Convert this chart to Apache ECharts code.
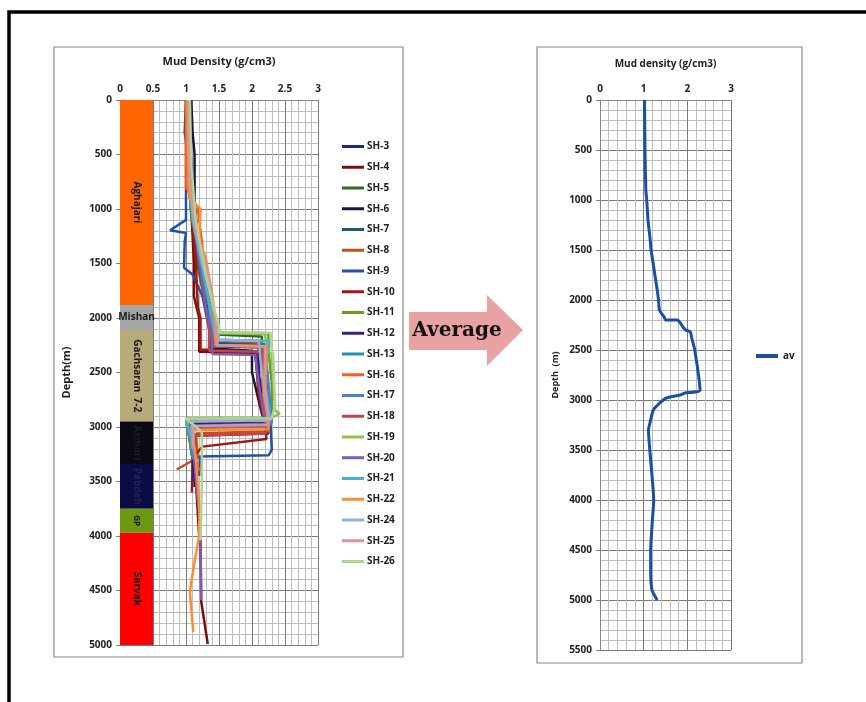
<!DOCTYPE html>
<html lang="en">
<head>
    <meta charset="UTF-8">
    <title>Mud density</title>
    <style>
        body { margin: 0; background: #fff; }
        #main { width: 866px; height: 702px; }
    </style>
</head>
<body>
    <div id="main"></div>
    <script src="https://cdn.jsdelivr.net/npm/echarts@6.0.0/dist/echarts.min.js"></script>
    <script>
        // formations: [top depth, bottom depth]
        const formTops = [0, 1880, 2110, 2950, 3340, 3750, 3970];
        const formBottoms = [1880, 2110, 2950, 3340, 3750, 3970, 5000];
        const formNames = ['Aghajari', 'Mishan', 'Gachsaran  7-2', 'Asmari', 'Pabdeh', 'GP', 'Sarvak'];
        const formColors = ['#ff6600', '#a6a6a6', '#b8ab7a', '#0a0a14', '#0c0c44', '#6b9a12', '#ff0000'];
        const formText = ['#1a1a1a', '#1a1a1a', '#1a1a1a', '#1c1c26', '#22225c', '#1a1a1a', '#1a1a1a'];

        // each well: [density, depth]
        const sh3 = [[1.05,0],[1.07,400],[1.08,900],[1.15,1300],[1.28,1800],[1.35,2050],[1.38,2250],[2.1,2260],[2.1,2500],[2.2,2900],[2.25,2980],[1.1,3000],[1.12,3300],[1.15,3500]];
        const sh4 = [[1.02,0],[1.05,500],[1.08,1000],[1.12,1500],[1.12,1800],[1.2,2000],[1.2,2310],[2.05,2320],[2.1,2600],[2.2,2950],[2.25,3060],[1.15,3080],[1.12,3300],[1.15,3500],[1.2,4000],[1.22,4050],[1.23,4600],[1.33,4990]];
        const sh5 = [[1.03,0],[1.05,600],[1.07,1000],[1.17,1500],[1.3,1900],[1.38,2150],[2.15,2170],[2.15,2500],[2.2,2900],[2.22,2940],[1.05,2950],[1.1,3200],[1.15,3400]];
        const sh6 = [[1.08,0],[1.1,300],[1.13,500],[1.13,900],[1.18,1300],[1.3,1700],[1.35,2000],[1.38,2280],[2.0,2300],[2.0,2500],[2.15,2880],[2.2,2960],[1.1,2980],[1.12,3200],[1.13,3550]];
        const sh7 = [[1.0,0],[0.98,300],[1.05,600],[1.15,1100],[1.25,1600],[1.4,2100],[1.42,2230],[2.2,2240],[2.15,2600],[2.25,2900],[2.3,2930],[1.02,2940],[1.05,3100],[1.1,3300]];
        const sh8 = [[1.02,0],[1.05,500],[1.1,1000],[1.25,1500],[1.35,1900],[1.4,2200],[2.15,2230],[2.2,2600],[2.25,2950],[2.25,3040],[1.15,3060],[1.18,3280],[0.86,3390]];
        const sh9 = [[1.0,0],[1.0,500],[1.0,1100],[0.76,1195],[1.0,1220],[0.98,1300],[0.97,1540],[1.1,1600],[1.25,1800],[1.35,2100],[1.38,2260],[2.1,2270],[2.2,2500],[2.28,2950],[2.3,3210],[2.25,3260],[1.21,3270],[1.2,3450]];
        const sh10 = [[1.03,0],[1.06,600],[1.1,1100],[1.15,1500],[1.18,1900],[1.22,2000],[1.22,2290],[2.05,2310],[2.1,2700],[2.2,3000],[2.22,3110],[1.25,3180],[1.1,3280],[1.09,3600]];
        const sh11 = [[1.05,0],[1.04,800],[1.1,1100],[1.25,1600],[1.4,2000],[1.52,2130],[2.25,2140],[2.25,2300],[2.3,2600],[2.3,2940],[1.0,2950],[1.05,3100],[1.1,3300]];
        const sh12 = [[1.05,0],[1.08,600],[1.12,1100],[1.2,1500],[1.32,1900],[1.4,2300],[2.1,2310],[2.1,2600],[2.2,2940],[2.2,2960],[1.05,2970],[1.1,3300],[1.12,3500]];
        const sh13 = [[1.02,0],[1.05,700],[1.12,1100],[1.25,1500],[1.38,1900],[1.45,2200],[2.15,2210],[2.2,2500],[2.25,2900],[2.28,2920],[1.0,2925],[1.1,3200],[1.15,3400]];
        const sh16 = [[1.0,0],[1.0,800],[1.18,1000],[1.24,1300],[1.3,1600],[1.38,1900],[1.45,2250],[2.2,2270],[2.15,2500],[2.2,2900],[2.25,3000],[1.05,3010],[1.1,3200],[1.2,3400]];
        const sh17 = [[1.03,0],[1.06,600],[1.12,1100],[1.22,1500],[1.35,1900],[1.4,2250],[2.2,2260],[2.25,2600],[2.3,2960],[2.25,2990],[1.05,3000],[1.1,3300]];
        const sh18 = [[1.04,0],[1.05,500],[1.1,1100],[1.22,1500],[1.3,1900],[1.35,2100],[1.35,2300],[2.15,2310],[2.2,2800],[2.25,3020],[2.2,3060],[1.1,3080],[1.15,3300]];
        const sh19 = [[1.04,0],[1.06,800],[1.15,1200],[1.3,1600],[1.42,1950],[1.5,2140],[2.2,2150],[2.22,2300],[2.3,2330],[2.35,2850],[2.42,2875],[2.3,2915],[1.0,2920],[1.05,3000],[1.1,3200]];
        const sh20 = [[1.05,0],[1.06,600],[1.1,1000],[1.2,1500],[1.3,1900],[1.38,2100],[1.4,2330],[2.05,2340],[2.1,2600],[2.18,2900],[2.2,2970],[1.05,2990],[1.12,3200],[1.15,3500],[1.2,3800],[1.22,4050],[1.23,4590]];
        const sh21 = [[1.02,0],[1.04,700],[1.1,1100],[1.2,1400],[1.33,1800],[1.42,2100],[1.45,2200],[2.25,2210],[2.2,2600],[2.28,2930],[2.2,2940],[1.0,2945],[1.08,3100],[1.15,3300]];
        const sh22 = [[1.02,0],[1.03,500],[1.05,900],[1.22,1000],[1.2,1300],[1.3,1450],[1.4,1800],[1.45,2100],[1.45,2250],[2.22,2260],[2.2,2600],[2.25,2950],[2.25,3020],[1.1,3030],[1.15,3300],[1.2,3700],[1.2,4000],[1.14,4200],[1.06,4500],[1.07,4600],[1.11,4880]];
        const sh24 = [[1.04,0],[1.05,700],[1.12,1100],[1.25,1500],[1.38,1800],[1.45,2000],[1.5,2200],[2.1,2210],[2.15,2500],[2.25,2900],[2.28,2940],[1.1,2950],[1.12,3200]];
        const sh25 = [[1.03,0],[1.05,700],[1.15,1200],[1.3,1500],[1.4,1800],[1.45,2050],[1.48,2250],[2.2,2260],[2.18,2700],[2.25,2950],[2.22,2980],[1.08,2990],[1.12,3200]];
        const sh26 = [[1.06,0],[1.08,600],[1.15,1100],[1.3,1600],[1.42,1900],[1.5,2080],[1.5,2130],[2.28,2135],[2.3,2300],[2.32,2330],[2.35,2800],[2.3,2920],[1.0,2925],[1.15,3000],[1.24,3050],[1.24,3500],[1.22,4040]];

        const wellNames = ['SH-3','SH-4','SH-5','SH-6','SH-7','SH-8','SH-9','SH-10','SH-11','SH-12','SH-13','SH-16','SH-17','SH-18','SH-19','SH-20','SH-21','SH-22','SH-24','SH-25','SH-26'];
        const wellData = [sh3, sh4, sh5, sh6, sh7, sh8, sh9, sh10, sh11, sh12, sh13, sh16, sh17, sh18, sh19, sh20, sh21, sh22, sh24, sh25, sh26];
        const wellColors = ['#1f2a7a','#7b0c0c','#2f6b1c','#16163e','#1d5b70','#c44f1c','#1f50aa','#a31515','#6b9b22','#3c1d7c','#2b8cab',
                            '#ff5b12','#4d7fd2','#c24545','#8dc246','#7c5cab','#43b3d3','#ff8c35','#94b0da','#d99595','#b3d395'];

        // average curve: [density, depth]
        const avgData = [[1.02,0],[1.03,500],[1.05,900],[1.07,1000],[1.1,1200],[1.15,1400],[1.17,1500],[1.24,1700],[1.31,1900],[1.34,2000],[1.36,2100],
                         [1.4,2130],[1.47,2170],[1.5,2200],[1.77,2200],[1.84,2230],[1.9,2270],[1.96,2300],[2.07,2320],[2.1,2380],[2.17,2500],[2.29,2900],
                         [1.95,2930],[1.83,2950],[1.52,2980],[1.45,3000],[1.32,3050],[1.22,3100],[1.16,3200],[1.11,3300],[1.14,3500],[1.2,3800],
                         [1.23,4000],[1.2,4200],[1.16,4500],[1.16,4700],[1.19,4900],[1.31,5000]];

        const font = '"Open Sans", "Liberation Sans", sans-serif';
        const lbl = { fontSize: 10, fontWeight: 'bold', color: '#222', fontFamily: font };
        const major = { lineStyle: { color: '#7a7a7a', width: 1 } };
        const minor = { show: true, lineStyle: { color: '#bdbdbd', width: 1 } };
        const plain = v => String(v);

        const chart = echarts.init(document.getElementById('main'));

        const series = [{
            type: 'custom',
            xAxisIndex: 0, yAxisIndex: 0,
            data: formTops.map((t, i) => [0, t, 0.5, formBottoms[i]]),
            encode: { x: [0, 2], y: [1, 3] },
            silent: true,
            renderItem: function (params, api) {
                const i = params.dataIndex;
                const p0 = api.coord([api.value(0), api.value(1)]);
                const p1 = api.coord([api.value(2), api.value(3)]);
                const flat = formNames[i] === 'Mishan';
                return {
                    type: 'group',
                    children: [{
                        type: 'rect',
                        shape: { x: p0[0], y: p0[1], width: p1[0] - p0[0], height: p1[1] - p0[1] },
                        style: { fill: formColors[i] }
                    }, {
                        type: 'text',
                        x: (p0[0] + p1[0]) / 2,
                        y: (p0[1] + p1[1]) / 2,
                        rotation: flat ? 0 : -Math.PI / 2,
                        style: {
                            text: formNames[i], align: 'center', verticalAlign: 'middle',
                            fill: formText[i],
                            font: 'bold ' + (i === 5 ? 8 : 10) + 'px ' + font
                        }
                    }]
                };
            }
        }];
        wellNames.forEach((n, i) => {
            series.push({
                name: n, type: 'line', xAxisIndex: 0, yAxisIndex: 0,
                data: wellData[i], symbol: 'none', color: wellColors[i],
                lineStyle: { width: 2.5 }
            });
        });
        series.push({
            name: 'av', type: 'line', xAxisIndex: 1, yAxisIndex: 1,
            data: avgData, symbol: 'none', color: '#1a4fa8', smooth: 0.2,
            lineStyle: { width: 3 }
        });

        const option = {
            animation: false,
            backgroundColor: '#fff',
            grid: [
                { left: 120, top: 100, width: 198, height: 545 },
                { left: 600, top: 100, width: 131, height: 550 }
            ],
            xAxis: [{
                type: 'value', gridIndex: 0, position: 'top', min: 0, max: 3, interval: 0.5,
                name: 'Mud Density (g/cm3)', nameLocation: 'middle', nameGap: 33,
                nameTextStyle: { fontSize: 11, fontWeight: 'bold', color: '#222', fontFamily: font },
                axisLine: { show: true, lineStyle: { color: '#888' } },
                axisTick: { show: false },
                axisLabel: Object.assign({ margin: 6, formatter: plain }, lbl),
                splitLine: major,
                minorTick: { show: false, splitNumber: 5 },
                minorSplitLine: minor
            }, {
                type: 'value', gridIndex: 1, position: 'top', min: 0, max: 3, interval: 1,
                name: 'Mud density (g/cm3)', nameLocation: 'middle', nameGap: 31,
                nameTextStyle: { fontSize: 10, fontWeight: 'bold', color: '#222', fontFamily: font },
                axisLine: { show: true, lineStyle: { color: '#888' } },
                axisTick: { show: false },
                axisLabel: Object.assign({ margin: 6, formatter: plain }, lbl),
                splitLine: major,
                minorTick: { show: false, splitNumber: 5 },
                minorSplitLine: minor
            }],
            yAxis: [{
                type: 'value', gridIndex: 0, inverse: true, min: 0, max: 5000, interval: 500,
                name: 'Depth(m)', nameLocation: 'middle', nameGap: 48, nameRotate: 90,
                nameTextStyle: { fontSize: 11, fontWeight: 'bold', color: '#222', fontFamily: font },
                axisLine: { show: true, lineStyle: { color: '#888' } },
                axisTick: { show: true, length: 4, lineStyle: { color: '#888' } },
                axisLabel: Object.assign({ margin: 8, formatter: plain }, lbl),
                splitLine: major,
                minorTick: { show: false, splitNumber: 5 },
                minorSplitLine: minor
            }, {
                type: 'value', gridIndex: 1, inverse: true, min: 0, max: 5500, interval: 500,
                name: 'Depth  (m)', nameLocation: 'middle', nameGap: 40, nameRotate: 90,
                nameTextStyle: { fontSize: 9, fontWeight: 'bold', color: '#222', fontFamily: font },
                axisLine: { show: true, lineStyle: { color: '#888' } },
                axisTick: { show: true, length: 4, lineStyle: { color: '#888' } },
                axisLabel: Object.assign({ margin: 8, formatter: plain }, lbl),
                splitLine: major,
                minorTick: { show: false, splitNumber: 5 },
                minorSplitLine: minor
            }],
            legend: [{
                data: wellNames, orient: 'vertical', left: 337, top: 135,
                icon: 'rect', itemWidth: 22, itemHeight: 3, itemGap: 7.75,
                textStyle: { fontSize: 10, fontWeight: 'bold', color: '#222', fontFamily: font, lineHeight: 13, padding: [0, 0, 0, -2] },
                selectedMode: false
            }, {
                data: ['av'], orient: 'vertical', left: 751, top: 346,
                icon: 'rect', itemWidth: 22, itemHeight: 4,
                textStyle: { fontSize: 10, fontWeight: 'bold', color: '#222', fontFamily: font },
                selectedMode: false
            }],
            graphic: [
                { type: 'rect', shape: { x: 9, y: 12, width: 900, height: 720 }, style: { fill: 'none', stroke: '#000', lineWidth: 3.5 }, z: -1 },
                { type: 'rect', shape: { x: 54, y: 47, width: 349, height: 610 }, style: { fill: 'none', stroke: '#8a8a8a', lineWidth: 1.2 }, z: -1 },
                { type: 'rect', shape: { x: 537, y: 47, width: 265, height: 616 }, style: { fill: 'none', stroke: '#8a8a8a', lineWidth: 1.2 }, z: -1 },
                {
                    type: 'polygon',
                    shape: { points: [[409, 312], [487, 312], [487, 295], [523, 330], [487, 366], [487, 350], [409, 350]] },
                    style: { fill: '#e8a2a2' }
                },
                {
                    type: 'text', x: 457, y: 331,
                    style: { text: 'Average', align: 'center', verticalAlign: 'middle', fill: '#111', font: 'bold 20px "DejaVu Serif", "Liberation Serif", serif' }
                }
            ],
            series: series
        };
        chart.setOption(option);
    </script>
</body>
</html>
